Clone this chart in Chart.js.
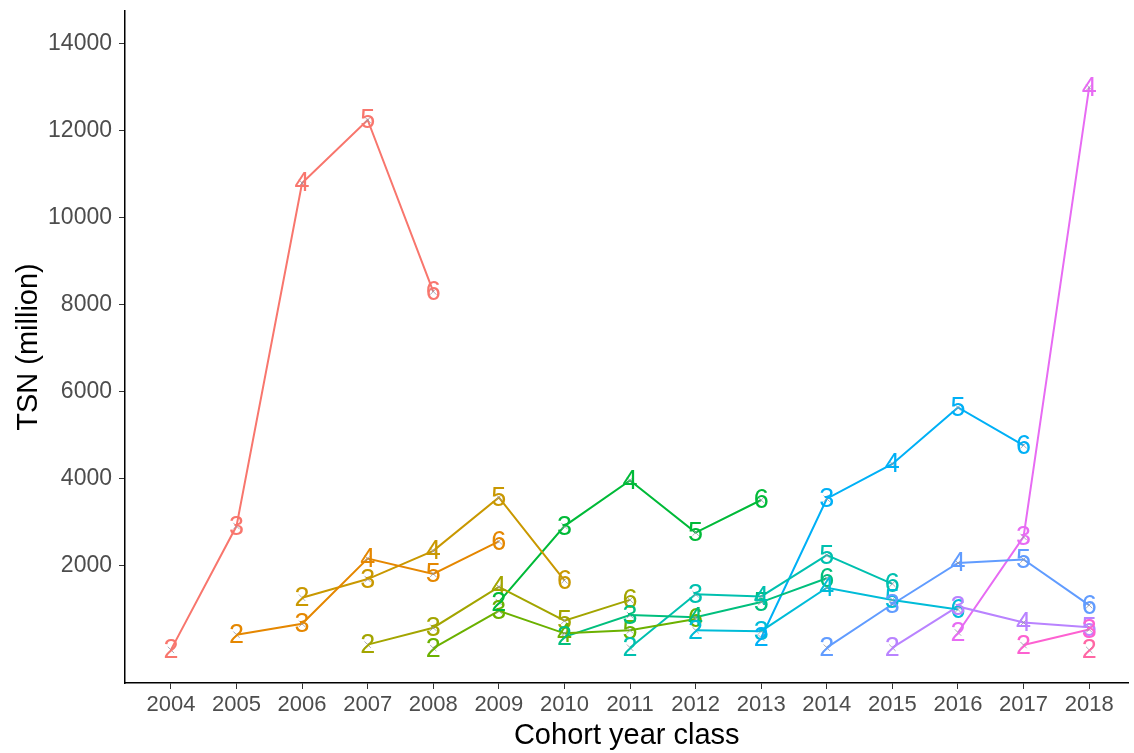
<!DOCTYPE html>
<html>
<head>
<meta charset="utf-8">
<script src="https://cdn.jsdelivr.net/npm/chart.js@4.4.1/dist/chart.umd.min.js"></script>
<style>
  html, body { margin: 0; padding: 0; background: #ffffff; }
  #wrap { width: 1134px; height: 753px; }
</style>
</head>
<body>
<div id="wrap"><canvas id="chart" width="1134" height="753"></canvas></div>
<script>
// Survey years on the x axis and the tick marks shown on each axis
const years = [2004, 2005, 2006, 2007, 2008, 2009, 2010, 2011, 2012, 2013, 2014, 2015, 2016, 2017, 2018];
const yTicks = [2000, 4000, 6000, 8000, 10000, 12000, 14000];

// Year classes; each one is followed from age 2 onwards, one year per age
const cohorts = [2004, 2005, 2006, 2007, 2008, 2009, 2010, 2011, 2012, 2013, 2014, 2015, 2016, 2017, 2018];
const firstAge = 2;

// TSN (million) per year class, ages 2, 3, 4, 5, 6
const tsn2004 = [50, 2900, 10800, 12250, 8300];
const tsn2005 = [400, 650, 2150, 1800, 2550];
const tsn2006 = [1250, 1680, 2330, 3560, 1650];
const tsn2007 = [170, 560, 1500, 720, 1200];
const tsn2008 = [90, 950, 430, 500, 760];
const tsn2009 = [1150, 2900, 3950, 2750, 3500];
const tsn2010 = [350, 850, 800, 1150, 1700];
const tsn2011 = [100, 1330, 1280, 2230, 1570];
const tsn2012 = [500, 480, 1480, 1200, 980];
const tsn2013 = [330, 3530, 4330, 5630, 4760];
const tsn2014 = [100, 1100, 2050, 2130, 1080];
const tsn2015 = [100, 1050, 680, 570];
const tsn2016 = [450, 2650, 13000];
const tsn2017 = [160, 520];
const tsn2018 = [50];

const tsnByCohort = [tsn2004, tsn2005, tsn2006, tsn2007, tsn2008, tsn2009, tsn2010,
  tsn2011, tsn2012, tsn2013, tsn2014, tsn2015, tsn2016, tsn2017, tsn2018];

// Evenly spaced hues, one per year class
const colours = ['#F8766D', '#E58700', '#C99800', '#A3A500', '#6BB100', '#00BA38', '#00BF7D',
  '#00C0AF', '#00BCD8', '#00B0F6', '#619CFF', '#B983FF', '#E76BF3', '#FD61D1', '#FF67A4'];

const FONT = "'Liberation Sans', Arial, Helvetica, sans-serif";

const datasets = cohorts.map((c, i) => ({
  label: String(c),
  data: tsnByCohort[i].map((v, k) => ({ x: c + k, y: v })),
  borderColor: colours[i],
  backgroundColor: colours[i],
  borderWidth: 2,
  tension: 0,
  pointStyle: 'crossRot',
  pointRadius: 4.5,
  pointBorderColor: 'rgba(150,150,165,0.8)',
  pointBorderWidth: 1,
  pointHoverRadius: 4.5
}));

// Writes the age of each point over it, in the colour of its year class
const ageLabels = {
  id: 'ageLabels',
  afterDatasetsDraw(chart) {
    const ctx = chart.ctx;
    ctx.save();
    ctx.font = '27px ' + FONT;
    ctx.textAlign = 'center';
    ctx.textBaseline = 'middle';
    chart.data.datasets.forEach((ds, i) => {
      const meta = chart.getDatasetMeta(i);
      meta.data.forEach((pt, k) => {
        ctx.fillStyle = ds.borderColor;
        ctx.fillText(String(firstAge + k), pt.x, pt.y + 1);
      });
    });
    ctx.restore();
  }
};

new Chart(document.getElementById('chart'), {
  type: 'line',
  data: { datasets },
  plugins: [ageLabels],
  options: {
    responsive: false,
    animation: false,
    devicePixelRatio: 1,
    layout: { padding: { top: 11, right: 0, left: 0, bottom: 0 } },
    plugins: { legend: { display: false }, tooltip: { enabled: false } },
    scales: {
      x: {
        type: 'linear',
        min: 2003.3,
        max: 2018.6,
        afterBuildTicks(scale) { scale.ticks = years.map(v => ({ value: v })); },
        afterFit(scale) { scale.height = 70; scale.paddingLeft = 0; scale.paddingRight = 0; },
        grid: { drawOnChartArea: false, drawTicks: true, tickLength: 6, color: '#333333', lineWidth: 1 },
        border: { display: true, color: '#000000', width: 1.5 },
        ticks: {
          autoSkip: false, maxRotation: 0, padding: 3, color: '#4D4D4D',
          font: { family: FONT, size: 22 },
          callback: v => String(v)
        },
        title: {
          display: true, text: 'Cohort year class', color: '#000000',
          font: { family: FONT, size: 29 }, padding: { top: 0, bottom: 0 }
        }
      },
      y: {
        type: 'linear',
        min: -713,
        max: 14759,
        afterBuildTicks(scale) { scale.ticks = yTicks.map(v => ({ value: v })); },
        afterFit(scale) { scale.width = 125; scale.paddingTop = 0; scale.paddingBottom = 0; },
        grid: { drawOnChartArea: false, drawTicks: true, tickLength: 6, color: '#333333', lineWidth: 1 },
        border: { display: true, color: '#000000', width: 1.5 },
        ticks: {
          autoSkip: false, padding: 7, color: '#4D4D4D',
          font: { family: FONT, size: 23 },
          callback: v => String(v)
        },
        title: {
          display: true, text: 'TSN (million)', color: '#000000',
          font: { family: FONT, size: 29 }, padding: { top: 12, bottom: 0 }
        }
      }
    }
  }
});
</script>
</body>
</html>
